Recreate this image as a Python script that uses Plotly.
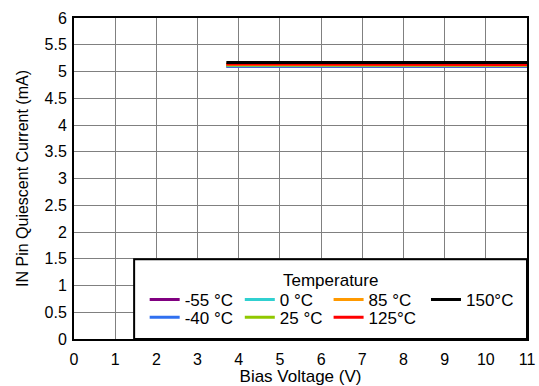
import plotly.graph_objects as go

bias_v = [3.7, 5, 6, 7, 8, 9, 10, 11]
temps = ["-55 °C", "-40 °C", "0 °C", "25 °C", "85 °C", "125°C", "150°C"]
colors = ["#800080", "#3070F0", "#30D0D0", "#90C800", "#FF9900", "#FF0000", "#000000"]
currents = {
    "-55 °C": [5.10, 5.10, 5.10, 5.10, 5.10, 5.10, 5.10, 5.10],
    "-40 °C": [5.10, 5.10, 5.10, 5.10, 5.10, 5.10, 5.10, 5.10],
    "0 °C":   [5.11, 5.11, 5.11, 5.11, 5.11, 5.11, 5.11, 5.11],
    "25 °C":  [5.12, 5.12, 5.12, 5.12, 5.12, 5.12, 5.12, 5.12],
    "85 °C":  [5.13, 5.13, 5.13, 5.13, 5.12, 5.12, 5.12, 5.12],
    "125°C":  [5.14, 5.14, 5.14, 5.14, 5.13, 5.13, 5.13, 5.13],
    "150°C":  [5.17, 5.17, 5.17, 5.17, 5.17, 5.17, 5.17, 5.17],
}

# legend grid: (column x in paper, row)
col_x = [0.156, 0.366, 0.562, 0.777]
row_y = [0.122, 0.066]
legend_pos = {"-55 °C": (0, 0), "-40 °C": (0, 1), "0 °C": (1, 0), "25 °C": (1, 1),
              "85 °C": (2, 0), "125°C": (2, 1), "150°C": (3, 0)}

fig = go.Figure()
legends = {}
for i, (t, c) in enumerate(zip(temps, colors)):
    name = "legend" if i == 0 else f"legend{i + 1}"
    ci, ri = legend_pos[t]
    legends[name] = dict(x=col_x[ci], y=row_y[ri], xref="paper", yref="paper",
                         xanchor="left", yanchor="middle", orientation="v",
                         bgcolor="rgba(0,0,0,0)", borderwidth=0, font=dict(size=17))
    fig.add_trace(go.Scatter(x=bias_v, y=currents[t], mode="lines", name=t,
                             line=dict(color=c, width=3), legend=name))

font = dict(family="Liberation Sans, Arial, sans-serif", size=16, color="black")

fig.update_layout(
    width=539, height=386,
    margin=dict(l=74, r=12, t=18, b=47),
    paper_bgcolor="white", plot_bgcolor="white",
    font=font,
    showlegend=True,
    **legends,
    xaxis=dict(range=[0, 11], dtick=1, tick0=0, showgrid=True, gridcolor="#808080", gridwidth=1,
               showline=True, linecolor="black", linewidth=2, mirror=True, zeroline=False,
               automargin=False, ticks="", ticklabelstandoff=5,
               title=dict(text="Bias Voltage (V)", standoff=2, font=dict(size=17)),
               tickfont=dict(size=16)),
    yaxis=dict(range=[0, 6], dtick=0.5, tick0=0, showgrid=True, gridcolor="#808080", gridwidth=1,
               showline=True, linecolor="black", linewidth=2, mirror=True, zeroline=False,
               automargin=False, ticks="", ticklabelstandoff=2,
               title=dict(text="IN Pin Quiescent Current (mA)", standoff=12, font=dict(size=16)),
               tickfont=dict(size=16)),
    shapes=[dict(type="rect", xref="x", yref="y", x0=1.46, x1=11, y0=0, y1=1.49,
                 fillcolor="white", line=dict(color="black", width=2), layer="above")],
    annotations=[dict(text="Temperature", x=6.22, y=1.1, xref="x", yref="y",
                      showarrow=False, font=dict(size=17), xanchor="center", yanchor="middle")],
)

fig.write_html("out.html", config={"displayModeBar": False},
               post_script="document.body.style.margin='0';document.body.style.overflow='hidden';")
